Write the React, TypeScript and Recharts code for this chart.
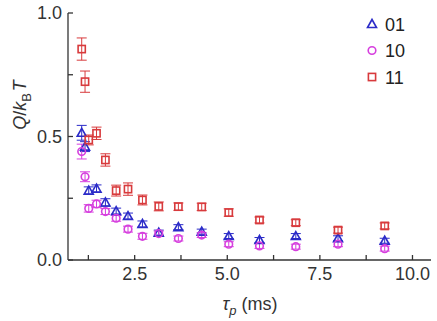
import { ScatterChart, Scatter, XAxis, YAxis, ErrorBar } from 'recharts';

const tau = [1.07, 1.16, 1.26, 1.47, 1.71, 2.0, 2.32, 2.71, 3.15, 3.68, 4.31, 5.04, 5.87, 6.85, 7.99, 9.25];
const q01 = [0.515, 0.459, 0.281, 0.289, 0.233, 0.198, 0.178, 0.146, 0.111, 0.133, 0.115, 0.097, 0.081, 0.097, 0.088, 0.078];
const q10 = [0.439, 0.337, 0.209, 0.227, 0.196, 0.169, 0.125, 0.096, 0.107, 0.087, 0.101, 0.064, 0.057, 0.054, 0.064, 0.046];
const q11 = [0.854, 0.722, 0.486, 0.513, 0.405, 0.281, 0.287, 0.243, 0.217, 0.216, 0.215, 0.192, 0.162, 0.151, 0.121, 0.138];
const e01 = [0.03, 0.02, 0.015, 0.015, 0.015, 0.012, 0.012, 0.012, 0.01, 0.01, 0.01, 0.01, 0.01, 0.01, 0.01, 0.01];
const e10 = [0.03, 0.02, 0.015, 0.015, 0.012, 0.012, 0.012, 0.012, 0.01, 0.01, 0.01, 0.01, 0.01, 0.01, 0.01, 0.01];
const e11 = [0.045, 0.043, 0.02, 0.025, 0.025, 0.022, 0.025, 0.02, 0.018, 0.015, 0.015, 0.015, 0.012, 0.012, 0.012, 0.012];

const xTicks = [1.25, 2.5, 3.75, 5, 6.25, 7.5, 8.75, 10];
const yTicks = [0, 0.25, 0.5, 0.75, 1];

const BLUE = '#2b2bc8';
const MAGENTA = '#d63fde';
const RED = '#d83a3c';
const AXIS = '#333';
const FONT = 'Liberation Sans, Arial, sans-serif';

const toRows = (ys: number[], es: number[]) => tau.map((t, i) => ({ x: t, y: ys[i], err: es[i] }));
const d01 = toRows(q01, e01);
const d10 = toRows(q10, e10);
const d11 = toRows(q11, e11);

const Tri = (props: any) => {
  const { cx, cy, fill } = props;
  return <path d={`M${cx},${cy - 4.5} L${cx + 4.5},${cy + 3.5} L${cx - 4.5},${cy + 3.5} Z`} fill="none" stroke={fill} strokeWidth={1.6} />;
};
const Circ = (props: any) => {
  const { cx, cy, fill } = props;
  return <circle cx={cx} cy={cy} r={3.8} fill="none" stroke={fill} strokeWidth={1.6} />;
};
const Sq = (props: any) => {
  const { cx, cy, fill } = props;
  return <rect x={cx - 3.6} y={cy - 3.6} width={7.2} height={7.2} fill="none" stroke={fill} strokeWidth={1.6} />;
};

const legendItems = [
  { name: '01', color: BLUE, Shape: Tri },
  { name: '10', color: MAGENTA, Shape: Circ },
  { name: '11', color: RED, Shape: Sq },
];

const LegendBox = () => (
  <svg width={60} height={80} style={{ display: 'block' }}>
    {legendItems.map((it, i) => (
      <g key={it.name}>
        <it.Shape cx={10} cy={10 + i * 26.5} fill={it.color} />
        <text x={23} y={16.5 + i * 26.5} fontSize={18} fontFamily={FONT} fill="#222">{it.name}</text>
      </g>
    ))}
  </svg>
);

export default function App() {
  return (
    <div style={{ position: 'absolute', left: 0, top: 0, width: 437, height: 321, background: '#fff' }}>
      <ScatterChart width={437} height={321} margin={{ top: 13, right: 6, bottom: 31, left: 0 }}>
        <XAxis
          xAxisId="b"
          type="number"
          dataKey="x"
          domain={[0.7, 10.5]}
          ticks={xTicks}
          tickFormatter={(v: number) => (v % 2.5 === 0 ? v.toFixed(1) : '')}
          tickSize={-5}
          tickMargin={12}
          stroke={AXIS}
          strokeWidth={1.3}
          tick={{ fontSize: 18, fill: '#333', fontFamily: FONT }}
          allowDataOverflow
          height={30}
        />
        <XAxis
          xAxisId="t"
          orientation="top"
          type="number"
          dataKey="x"
          domain={[0.7, 10.5]}
          ticks={xTicks}
          tick={false}
          tickSize={-5}
          stroke={AXIS}
          strokeWidth={1.3}
          height={0}
          allowDataOverflow
        />
        <YAxis
          yAxisId="l"
          type="number"
          dataKey="y"
          domain={[0, 1]}
          ticks={yTicks}
          tickFormatter={(v: number) => (v % 0.5 === 0 ? v.toFixed(1) : '')}
          tickSize={-5}
          tickMargin={11}
          stroke={AXIS}
          strokeWidth={1.3}
          tick={{ fontSize: 18, fill: '#333', fontFamily: FONT }}
          width={68}
        />
        <YAxis
          yAxisId="r"
          orientation="right"
          type="number"
          dataKey="y"
          domain={[0, 1]}
          ticks={yTicks}
          tick={false}
          tickSize={-5}
          stroke={AXIS}
          strokeWidth={1.3}
          width={0}
        />
        <Scatter name="01" data={d01} xAxisId="b" yAxisId="l" fill={BLUE} shape={Tri} isAnimationActive={false}>
          <ErrorBar dataKey="err" direction="y" width={5} stroke={BLUE} strokeWidth={1} />
        </Scatter>
        <Scatter name="10" data={d10} xAxisId="b" yAxisId="l" fill={MAGENTA} shape={Circ} isAnimationActive={false}>
          <ErrorBar dataKey="err" direction="y" width={5} stroke={MAGENTA} strokeWidth={1} />
        </Scatter>
        <Scatter name="11" data={d11} xAxisId="b" yAxisId="l" fill={RED} shape={Sq} isAnimationActive={false}>
          <ErrorBar dataKey="err" direction="y" width={5} stroke={RED} strokeWidth={1} />
        </Scatter>
        <text x={250} y={310} textAnchor="middle" fontSize={18} fontFamily={FONT} fill="#333">
          <tspan fontStyle="italic">τ</tspan>
          <tspan fontStyle="italic" fontSize={13} dy={5}>p</tspan>
          <tspan dy={-5}> (ms)</tspan>
        </text>
        <text x={26} y={105} transform="rotate(-90, 26, 105)" textAnchor="middle" fontSize={18} fontFamily={FONT} fill="#333">
          <tspan fontStyle="italic">Q</tspan>
          <tspan>/</tspan>
          <tspan fontStyle="italic">k</tspan>
          <tspan fontSize={13} dy={5}>B</tspan>
          <tspan fontStyle="italic" dy={-5} dx={2}>T</tspan>
        </text>
      </ScatterChart>
      <div style={{ position: 'absolute', left: 362, top: 14 }}>
        <LegendBox />
      </div>
    </div>
  );
}
